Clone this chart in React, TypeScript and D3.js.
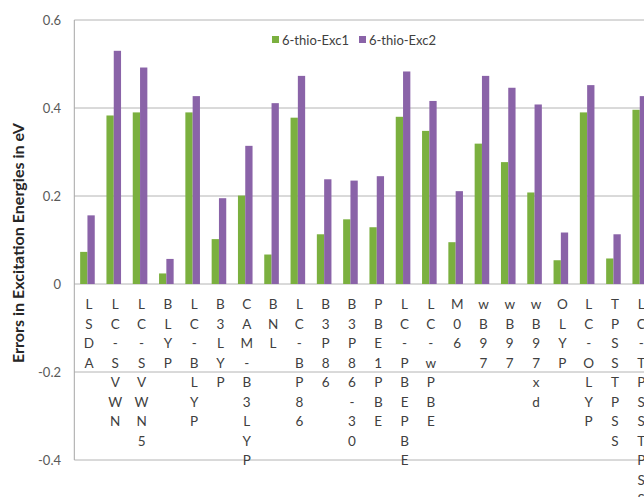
import React from "react";
import * as d3 from "d3";

const categories = [
  "LSDA", "LC-SVWN", "LC-SVWN5", "BLYP", "LC-BLYP", "B3LYP", "CAM-B3LYP", "BNL",
  "LC-BP86", "B3P86", "B3P86-30", "PBE1PBE", "LC-PBEPBE", "LC-wPBE", "M06", "wB97",
  "wB97", "wB97xd", "OLYP", "LC-OLYP", "TPSSTPSS", "LC-TPSSTPSS",
];
const exc1 = [
  0.073, 0.383, 0.390, 0.024, 0.390, 0.102, 0.201, 0.067,
  0.378, 0.113, 0.147, 0.129, 0.380, 0.348, 0.095, 0.319,
  0.277, 0.208, 0.054, 0.390, 0.058, 0.396,
];
const exc2 = [
  0.156, 0.530, 0.492, 0.057, 0.427, 0.195, 0.314, 0.411,
  0.473, 0.238, 0.235, 0.245, 0.483, 0.416, 0.211, 0.473,
  0.446, 0.408, 0.117, 0.452, 0.113, 0.427,
];
const seriesNames = ["6-thio-Exc1", "6-thio-Exc2"];
const yTicks = [-0.4, -0.2, 0, 0.2, 0.4, 0.6];
const yTickLabels = ["-0.4", "-0.2", "0", "0.2", "0.4", "0.6"];

const W = 644;
const H = 497;
const colors = ["#7bb03f", "#8a63a8"];
const FONT = "Lato, 'Open Sans', sans-serif";

export default function App() {
  const left = 74.3;
  const step = 26.3;
  const x = d3
    .scaleBand<string>()
    .domain(categories.map((_, i) => String(i)))
    .range([left, left + step * categories.length])
    .paddingInner(0.445)
    .paddingOuter(0.2225);
  const xs = d3.scaleBand<string>().domain(seriesNames).range([0, x.bandwidth()]);
  const y = d3.scaleLinear().domain([-0.4, 0.6]).range([460, 20]);
  const series = [exc1, exc2];
  const lineH = 19.5;

  return (
    <svg
      width={W}
      height={H}
      style={{ position: "absolute", left: 0, top: 0, background: "#fff" }}
      fontFamily={FONT}
    >
      {yTicks.map((t, i) => (
        <g key={t}>
          <line x1={left} x2={W} y1={y(t)} y2={y(t)} stroke="#b4b4b4" strokeWidth={1} />
          <text x={61} y={y(t)} dy="0.35em" textAnchor="end" fontSize={13} fill="#595959">
            {yTickLabels[i]}
          </text>
        </g>
      ))}
      <line x1={left} x2={left} y1={y(0.6)} y2={y(-0.4)} stroke="#a6a6a6" strokeWidth={1} />
      {series.map((vals, s) =>
        vals.map((v, i) => {
          const bx = (x(String(i)) ?? 0) + (xs(seriesNames[s]) ?? 0);
          return (
            <rect
              key={`${s}-${i}`}
              x={bx}
              y={y(Math.max(0, v))}
              width={xs.bandwidth()}
              height={Math.abs(y(v) - y(0))}
              fill={colors[s]}
            />
          );
        })
      )}
      {categories.map((c, i) => {
        const cx = (x(String(i)) ?? 0) + x.bandwidth() / 2 + 1.5;
        return (
          <text key={i} x={cx} textAnchor="middle" fontSize={13.5} fill="#404040">
            {c.split("").map((ch, k) => (
              <tspan key={k} x={cx} y={309 + k * lineH}>
                {ch}
              </tspan>
            ))}
          </text>
        );
      })}
      {seriesNames.map((n, s) => {
        const lx = [272, 359][s];
        return (
          <g key={n}>
            <rect x={lx} y={36} width={7} height={7} fill={colors[s]} />
            <text x={lx + 10} y={40} dy="0.35em" fontSize={13} fill="#404040">
              {n}
            </text>
          </g>
        );
      })}
      <text
        transform={`translate(19,243) rotate(-90)`}
        textAnchor="middle"
        dy="0.35em"
        fontSize={14.5}
        fontWeight="bold"
        fill="#262626"
        textLength={240}
        lengthAdjust="spacingAndGlyphs"
      >
        Errors in Excitation Energies in eV
      </text>
    </svg>
  );
}
